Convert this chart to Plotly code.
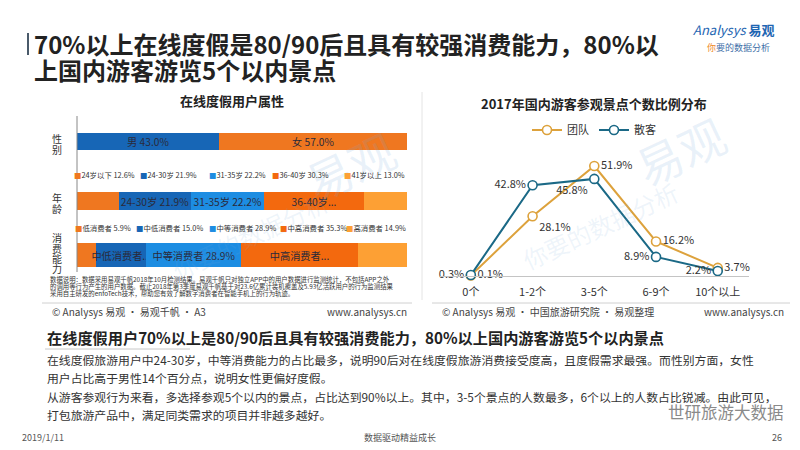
import plotly.graph_objects as go

# 左图：在线度假用户属性（百分比）
gender_names = ['男', '女']
gender_vals = [43.0, 57.0]
gender_labels = ['男 43.0%', '女 57.0%']

age_names = ['24岁以下', '24-30岁', '31-35岁', '36-40岁', '41岁以上']
age_vals = [12.6, 21.9, 22.2, 30.3, 13.0]
age_labels = ['', '24-30岁 21.9%', '31-35岁 22.2%', '36-40岁...', '']

spend_names = ['低消费者', '中低消费者', '中等消费者', '中高消费者', '高消费者']
spend_vals = [5.9, 15.0, 28.9, 35.3, 14.9]
spend_labels = ['', '中低消费者...', '中等消费者 28.9%', '中高消费者...', '']

# 右图：2017年国内游客参观景点个数比例分布
spot_cats = ['0个', '1-2个', '3-5个', '6-9个', '10个以上']
team_vals = [0.1, 28.1, 51.9, 16.2, 3.7]
indiv_vals = [0.3, 42.8, 45.8, 8.9, 2.2]

FONT = 'Noto Sans CJK SC'
seg_colors = ['#EF7720', '#1766B6', '#1D8DE2', '#F3690E', '#FDA034']
gender_colors = ['#1766B6', '#EF7720']
team_color = '#DDA23C'
indiv_color = '#1B6986'


def px(x):
    return x / 800


def py(y):
    return 1 - y / 450


fig = go.Figure()

# 堆叠条形 —— 每一行用单独的 y 轴，方便控制位置
rows = [
    ('y', gender_names, gender_vals, gender_labels, gender_colors),
    ('y2', age_names, age_vals, age_labels, seg_colors),
    ('y3', spend_names, spend_vals, spend_labels, seg_colors),
]
for axis, names, vals, labels, colors in rows:
    for name, v, lab, c in zip(names, vals, labels, colors):
        fig.add_trace(go.Bar(
            x=[v], y=['r'], orientation='h', xaxis='x', yaxis=axis,
            marker=dict(color=c, line=dict(width=0)), width=1,
            text=[lab], textposition='inside', insidetextanchor='middle',
            constraintext='none', cliponaxis=False,
            textfont=dict(family=FONT, size=10.2, color='#2a2a3a'),
            showlegend=False, hoverinfo='skip', name=name))

# 折线图
fig.add_trace(go.Scatter(
    x=spot_cats, y=team_vals, name='团队', xaxis='x2', yaxis='y4',
    mode='lines+markers+text', line=dict(color=team_color, width=2),
    marker=dict(size=9, color='white', line=dict(color=team_color, width=1.6)),
    texttemplate='%{y:.1f}%',
    textposition=['middle right', 'bottom right', 'middle right', 'middle right', 'middle right'],
    textfont=dict(family=FONT, size=11, color='#333'), cliponaxis=False))
fig.add_trace(go.Scatter(
    x=spot_cats, y=indiv_vals, name='散客', xaxis='x2', yaxis='y4',
    mode='lines+markers+text', line=dict(color=indiv_color, width=2),
    marker=dict(size=9, color='white', line=dict(color=indiv_color, width=1.6)),
    texttemplate='%{y:.1f}%',
    textposition=['middle left', 'middle left', 'bottom left', 'middle left', 'middle left'],
    textfont=dict(family=FONT, size=11, color='#333'), cliponaxis=False))

bar_y = dict(type='category', range=[-0.5, 0.5], visible=False, anchor='x')
fig.update_layout(
    width=800, height=450, margin=dict(l=0, r=0, t=0, b=0),
    paper_bgcolor='white', plot_bgcolor='rgba(0,0,0,0)',
    barmode='stack', font=dict(family=FONT, color='#333'),
    xaxis=dict(domain=[px(77), px(407)], range=[0, 100], visible=False, fixedrange=True),
    yaxis=dict(bar_y, domain=[py(150), py(133)]),
    yaxis2=dict(bar_y, domain=[py(210), py(192)]),
    yaxis3=dict(bar_y, domain=[py(267), py(243)]),
    xaxis2=dict(domain=[px(440), px(748.6)], range=[-0.5, 4.5], type='category',
                showline=True, linecolor='#c4c4c4', linewidth=1.2, showgrid=False,
                ticks='', ticklabelstandoff=6, anchor='y4',
                tickfont=dict(family=FONT, size=11, color='#333')),
    yaxis4=dict(domain=[py(275.7), py(148.9)], range=[0, 60], visible=False, anchor='x2'),
    legend=dict(orientation='h', x=px(594), xanchor='center', y=py(130), yanchor='middle',
                font=dict(family=FONT, size=11, color='#333'), bgcolor='rgba(0,0,0,0)',
                itemwidth=30, traceorder='normal'),
)

ann = []


def text(x, y, s, size, color='#333', anchor='left', bold=False, **kw):
    if bold:
        s = '<b>' + s + '</b>'
    ann.append(dict(x=px(x), y=py(y), xref='paper', yref='paper', text=s, showarrow=False,
                    xanchor=anchor, yanchor='middle',
                    font=dict(family=FONT, size=size, color=color), **kw))


# 水印
text(350, 165, '易观', 46, color='rgba(120,170,220,0.16)', anchor='center', textangle=-25)
text(250, 235, '你要的数据分析', 24, color='rgba(120,170,220,0.13)', anchor='center', textangle=-25)
text(680, 150, '易观', 46, color='rgba(120,170,220,0.16)', anchor='center', textangle=-25)
text(600, 225, '你要的数据分析', 24, color='rgba(120,170,220,0.13)', anchor='center', textangle=-25)

# 大标题
text(32, 44, '70%以上在线度假是80/90后且具有较强消费能力，80%以', 24, color='#222', bold=True)
text(32, 69, '上国内游客游览5个以内景点', 24, color='#222', bold=True)

# logo
text(734, 30, '<i>Analysys</i> <b>易观</b>', 13, color='#1F66B2', anchor='center')
text(738, 47, '<span style="color:#F08A2A">你</span>要的数据分析', 9, color='#3E6FA8', anchor='center')

# 左右图标题
text(232, 100, '在线度假用户属性', 13, color='#222', anchor='center', bold=True)
text(594, 103, '2017年国内游客参观景点个数比例分布', 13, color='#222', anchor='center', bold=True)

# 行标签（竖排）
for label, top, step in [('性别', 138, 11), ('年龄', 197, 11), ('消费能力', 238, 10)]:
    for i, ch in enumerate(label):
        text(57.5, top + i * step, ch, 10, color='#333', anchor='center')

# 图例行
age_x = [72, 138, 207, 270, 342]
spend_x = [73, 134, 207, 278, 344]
for names, vals, xs, y in [(age_names, age_vals, age_x, 175), (spend_names, spend_vals, spend_x, 227)]:
    for n, v, x0, c in zip(names, vals, xs, seg_colors):
        text(x0, y, f'<span style="color:{c}">■</span>{n} {v:.1f}%', 7.4, color='#333')

# 数据说明
notes = [
    '数据说明：数据采用易观千帆2018年10月检测结果。易观千帆只对独立APP中的用户数据进行监测统计，不包括APP之外',
    '的调用等行为产生的用户数据。截止2018年第3季度易观千帆基于对23.6亿累计装机覆盖及5.93亿活跃用户的行为监测结果',
    '采用自主研发的enfoTech技术，帮助您有效了解数字消费者在智能手机上的行为轨迹。',
]
for i, s in enumerate(notes):
    text(48, 279.5 + i * 7, s, 6.4, color='#333')

text(50, 311, '© Analysys 易观 · 易观千帆 · A3', 10, color='#444')
text(409, 311, 'www.analysys.cn', 10, color='#444', anchor='right')
text(440, 311, '© Analysys 易观 · 中国旅游研究院 · 易观整理', 10, color='#444')
text(786, 311, 'www.analysys.cn', 10, color='#444', anchor='right')

# 下方结论
text(45, 337, '在线度假用户70%以上是80/90后且具有较强消费能力，80%以上国内游客游览5个以内景点', 15.2,
     color='#222', bold=True)
body = [
    '在线度假旅游用户中24-30岁，中等消费能力的占比最多，说明90后对在线度假旅游消费接受度高，且度假需求最强。而性别方面，女性',
    '用户占比高于男性14个百分点，说明女性更偏好度假。',
    '从游客参观行为来看，多选择参观5个以内的景点，占比达到90%以上。其中，3-5个景点的人数最多，6个以上的人数占比锐减。由此可见，',
    '打包旅游产品中，满足同类需求的项目并非越多越好。',
]
for i, s in enumerate(body):
    text(45, 359 + i * 18.5, s, 11.85, color='#333')

text(786, 412, '世研旅游大数据', 16.5, color='#8a8a8a', anchor='right')

# 页脚
text(20, 437, '2019/1/11', 9, color='#555')
text(400, 437, '数据驱动精益成长', 9, color='#555', anchor='center')
text(784, 437, '26', 9, color='#555', anchor='right')

fig.update_layout(annotations=ann)

shapes = [
    dict(type='line', xref='paper', yref='paper', x0=px(28), x1=px(28), y0=py(33), y1=py(55),
         line=dict(color='#4a5a6a', width=2)),
    dict(type='line', xref='paper', yref='paper', x0=px(77), x1=px(77), y0=py(116), y1=py(272),
         line=dict(color='#888', width=1)),
    dict(type='line', xref='paper', yref='paper', x0=px(42), x1=px(412), y0=py(303), y1=py(303),
         line=dict(color='#d0d0d0', width=1)),
    dict(type='line', xref='paper', yref='paper', x0=px(432), x1=px(790), y0=py(303), y1=py(303),
         line=dict(color='#d0d0d0', width=1)),
    dict(type='line', xref='paper', yref='paper', x0=px(422), x1=px(422), y0=py(92), y1=py(300),
         line=dict(color='#e4e4e4', width=1)),
    dict(type='line', xref='paper', yref='paper', x0=px(45), x1=px(190), y0=py(349), y1=py(349),
         line=dict(color='#c8c8c8', width=1)),
]
fig.update_layout(shapes=shapes)

# 去掉浏览器默认的 body 边距，让图贴齐窗口；不显示工具栏
fig.write_html('out.html', config={'displayModeBar': False},
               post_script="document.body.style.margin='0';")
